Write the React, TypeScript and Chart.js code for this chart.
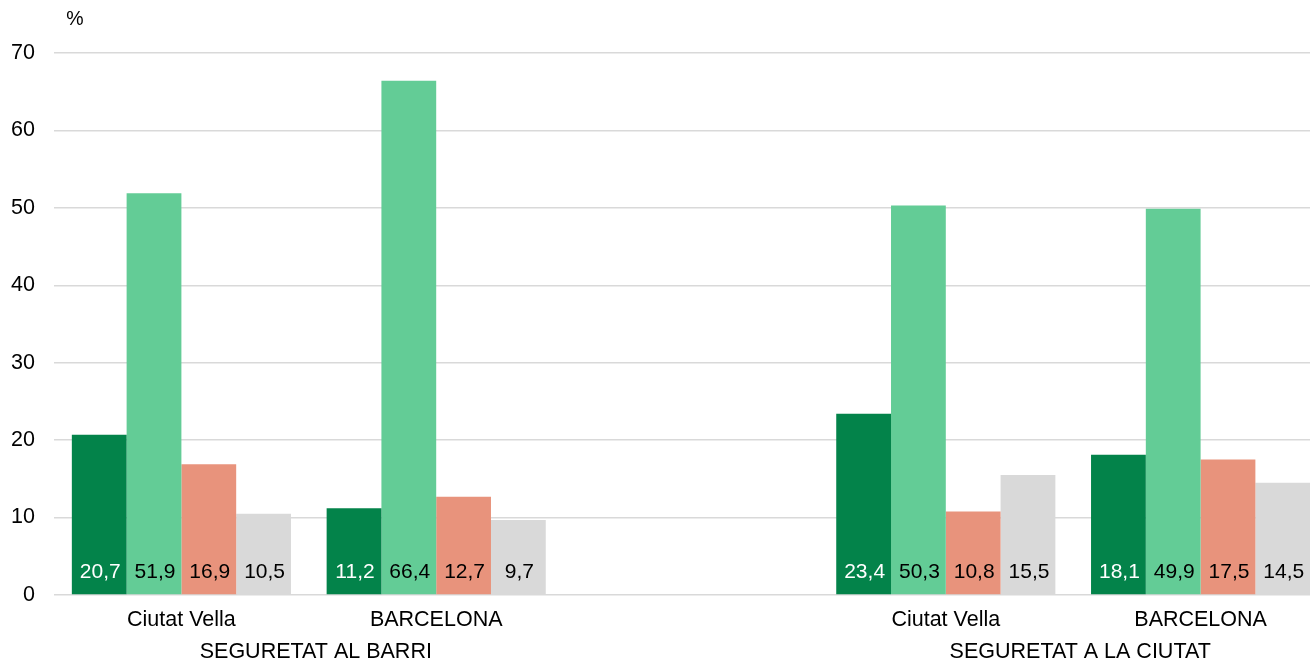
import React, { useEffect, useRef } from "react";
import { Chart, registerables } from "chart.js";

Chart.register(...registerables);

const categories = ["Ciutat Vella", "BARCELONA", "", "Ciutat Vella", "BARCELONA"];
const groupLabels = ["SEGURETAT AL BARRI", "SEGURETAT A LA CIUTAT"];
const groupMembers = [[0, 1], [3, 4]];
const seriesNames = ["Sèrie 1", "Sèrie 2", "Sèrie 3", "Sèrie 4"];
const series1 = [20.7, 11.2, null, 23.4, 18.1];
const series2 = [51.9, 66.4, null, 50.3, 49.9];
const series3 = [16.9, 12.7, null, 10.8, 17.5];
const series4 = [10.5, 9.7, null, 15.5, 14.5];
const colors = ["#03834A", "#63CC96", "#E8937C", "#D9D9D9"];
const labelColors = ["#FFFFFF", "#000000", "#000000", "#000000"];
const yTicksMax = 70;
const yStep = 10;
const unitLabel = "%";

const FONT = "'Liberation Sans', Arial, sans-serif";

const valueLabelPlugin = {
  id: "valueLabels",
  afterDatasetsDraw(chart: any) {
    const ctx = chart.ctx;
    const y0 = chart.scales.y.getPixelForValue(0);
    ctx.save();
    ctx.font = `21px ${FONT}`;
    ctx.textAlign = "center";
    ctx.textBaseline = "middle";
    chart.data.datasets.forEach((ds: any, di: number) => {
      const meta = chart.getDatasetMeta(di);
      meta.data.forEach((el: any, i: number) => {
        const v = ds.data[i];
        if (v === null || v === undefined) return;
        ctx.fillStyle = labelColors[di];
        ctx.fillText(v.toFixed(1).replace(".", ","), el.x + 1, y0 - 23);
      });
    });
    ctx.restore();
  },
};

const extraTextPlugin = {
  id: "extraText",
  afterDraw(chart: any) {
    const ctx = chart.ctx;
    const xs = chart.scales.x;
    ctx.save();
    ctx.fillStyle = "#000";
    ctx.font = `21.5px ${FONT}`;
    ctx.textAlign = "center";
    ctx.textBaseline = "middle";
    groupMembers.forEach((members, gi) => {
      const xsum = members.reduce((s, m) => s + xs.getPixelForTick(m), 0);
      const cx = xsum / members.length + 7;
      ctx.fillText(groupLabels[gi], cx, 652);
    });
    ctx.font = `19.5px ${FONT}`;
    ctx.fillText(unitLabel, 75, 20);
    ctx.restore();
  },
};

export default function App() {
  const ref = useRef<HTMLCanvasElement>(null);
  useEffect(() => {
    if (!ref.current) return;
    const data = [series1, series2, series3, series4];
    const chart = new Chart(ref.current, {
      type: "bar",
      data: {
        labels: categories,
        datasets: data.map((d, i) => ({
          label: seriesNames[i],
          data: d as any,
          backgroundColor: colors[i],
          borderWidth: 0,
          barPercentage: 1,
          categoryPercentage: 0.86,
        })),
      },
      plugins: [valueLabelPlugin, extraTextPlugin],
      options: {
        animation: false,
        responsive: false,
        devicePixelRatio: 1,
        layout: { padding: { top: 53, left: 0, right: 0, bottom: 0 } },
        plugins: {
          legend: { display: false },
          tooltip: { enabled: false },
          title: { display: false },
        },
        scales: {
          x: {
            grid: { display: false, drawTicks: false },
            border: { display: false },
            ticks: {
              color: "#000",
              font: { family: FONT, size: 21.5 },
              padding: 12,
              autoSkip: false,
              maxRotation: 0,
            },
            afterFit(scale: any) {
              scale.height = 66;
            },
          },
          y: {
            min: 0,
            max: yTicksMax,
            grid: { color: "#D9D9D9", lineWidth: 1.5, drawTicks: false },
            border: { display: false },
            ticks: {
              stepSize: yStep,
              color: "#000",
              font: { family: FONT, size: 21.5 },
              padding: 19,
            },
            afterFit(scale: any) {
              scale.width = 54;
            },
          },
        },
      },
    });
    return () => chart.destroy();
  }, []);
  return (
    <div
      style={{
        position: "fixed",
        left: 0,
        top: 0,
        width: 1310,
        height: 661,
        overflow: "hidden",
        background: "#fff",
      }}
    >
      <canvas ref={ref} width={1328} height={661} style={{ display: "block" }} />
    </div>
  );
}
